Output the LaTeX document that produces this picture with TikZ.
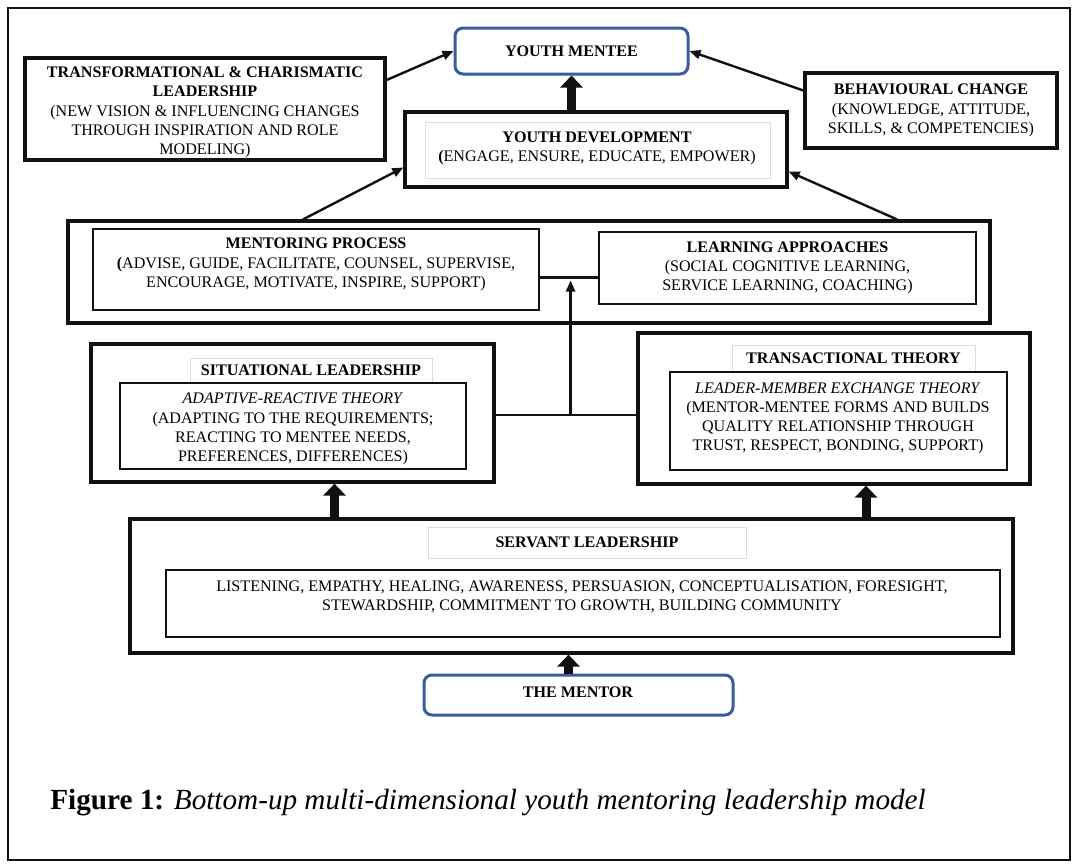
\documentclass[tikz,border=0pt]{standalone}
\usepackage{fontspec}
\setmainfont{Liberation Serif}
\usetikzlibrary{arrows.meta,positioning}
\definecolor{cBlue}{HTML}{3A5BA0}
\definecolor{cInk}{HTML}{111111}
\definecolor{cGrey}{HTML}{DDDDDD}

\begin{document}
\begin{tikzpicture}[
  x=0.5pt,y=-0.5pt,
  font=\fontsize{8.05}{9.6}\selectfont,
  tbox/.style={draw=cInk,line width=1.6pt,inner sep=0pt,align=center},
  ibox/.style={draw=cInk,line width=0.7pt,inner sep=0pt,align=center},
  gbox/.style={draw=cGrey,line width=0.4pt,inner sep=0pt,font=\fontsize{8.05}{9.6}\selectfont\bfseries},
  ment/.style={draw=cBlue,line width=1.5pt,rounded corners=4pt,inner sep=0pt,
               font=\fontsize{8.05}{9.6}\selectfont\bfseries},
  txt/.style={align=center,inner sep=0pt},
  link/.style={-{Triangle[length=5.5pt,width=4.5pt]},line width=1.2pt,cInk},
  lift/.style={-{Triangle[length=6pt,width=11pt]},line width=4.5pt,cInk},
  tie/.style={line width=1.1pt,cInk}
]
\useasboundingbox (0,0) rectangle (1077,864);
\draw[line width=1pt,cInk] (8,8) rectangle (1070,860);

% top row
\node[ment,minimum width=116.5pt,minimum height=23pt] (mentee) at (571.5,51) {YOUTH MENTEE};
\node[tbox,minimum width=180pt,minimum height=51pt] (transf) at (205,109) {};
\node[txt] (transft) at (205,112.5)
  {\textbf{TRANSFORMATIONAL \& CHARISMATIC}\\\textbf{LEADERSHIP}\\(NEW VISION \& INFLUENCING CHANGES\\THROUGH INSPIRATION AND ROLE\\MODELING)};
\node[tbox,minimum width=126pt,minimum height=37.5pt] (behav) at (931,110.5)
  {\textbf{BEHAVIOURAL CHANGE}\\(KNOWLEDGE, ATTITUDE,\\SKILLS, \& COMPETENCIES)};
\node[tbox,minimum width=191pt,minimum height=37.5pt] (ydev) at (596,149.5) {};
\node[gbox,minimum width=172.5pt,minimum height=28pt] (ydevg) at (597.5,150) {};
\node[txt] (ydevt) at (597,148.5) {\textbf{YOUTH DEVELOPMENT}\\\textbf{(}ENGAGE, ENSURE, EDUCATE, EMPOWER)};

% mentoring row
\node[tbox,minimum width=461pt,minimum height=51pt] (mrow) at (529,272) {};
\node[ibox,minimum width=223pt,minimum height=40.5pt] (mproc) at (316,269.5) {};
\node[txt] (mproct) at (316,264.5)
  {\textbf{MENTORING PROCESS}\\\textbf{(}ADVISE, GUIDE, FACILITATE, COUNSEL, SUPERVISE,\\ENCOURAGE, MOTIVATE, INSPIRE, SUPPORT)};
\node[ibox,minimum width=188.5pt,minimum height=36pt] (learn) at (787.5,268)
  {\textbf{LEARNING APPROACHES}\\(SOCIAL COGNITIVE LEARNING,\\SERVICE LEARNING, COACHING)};

% theory row
\node[tbox,minimum width=201.5pt,minimum height=69pt] (sit) at (292.5,413) {};
\node[gbox,minimum width=121pt,minimum height=12.5pt] (sitg) at (311,370.5) {SITUATIONAL LEADERSHIP};
\node[ibox,minimum width=173pt,minimum height=43pt] (sitin) at (293,426) {};
\node[txt] (sitt) at (293,429)
  {\textit{ADAPTIVE-REACTIVE THEORY}\\(ADAPTING TO THE REQUIREMENTS;\\REACTING TO MENTEE NEEDS,\\PREFERENCES, DIFFERENCES)};
\node[tbox,minimum width=196pt,minimum height=75.5pt] (trans) at (834,408.5) {};
\node[gbox,minimum width=121.5pt,minimum height=13.5pt] (transg) at (853.5,358.5) {TRANSACTIONAL THEORY};
\node[ibox,minimum width=168.5pt,minimum height=49pt] (transin) at (838.5,421) {};
\node[txt] (transt) at (838,418.5)
  {\textit{LEADER-MEMBER EXCHANGE THEORY}\\(MENTOR-MENTEE FORMS AND BUILDS\\QUALITY RELATIONSHIP THROUGH\\TRUST, RESPECT, BONDING, SUPPORT)};

% base
\node[tbox,minimum width=441.5pt,minimum height=67pt] (serv) at (571.5,586) {};
\node[gbox,minimum width=159pt,minimum height=15.5pt] (servg) at (587,542.5) {SERVANT LEADERSHIP};
\node[ibox,minimum width=417pt,minimum height=33.5pt] (servin) at (583,603.5) {};
\node[txt] (servt) at (582,597)
  {LISTENING, EMPATHY, HEALING, AWARENESS, PERSUASION, CONCEPTUALISATION, FORESIGHT,\\STEWARDSHIP, COMMITMENT TO GROWTH, BUILDING COMMUNITY};
\node[ment,minimum width=154.5pt,minimum height=20pt] (mentor) at (578.5,695) {};
\node[txt,font=\fontsize{8.05}{9.6}\selectfont\bfseries] (mentort) at (578,692.5) {THE MENTOR};

\node[anchor=west,inner sep=0pt,font=\fontsize{14.6}{17}\selectfont] (cap) at (50,803)
  {\textbf{Figure 1:} \textit{Bottom-up multi-dimensional youth mentoring leadership model}};

% thin arrows
\draw[link] ([yshift=14.5pt]transf.east) -- (mentee.west);
\draw[link] ([yshift=10pt]behav.west) -- (mentee.east);
\draw[link] ([xshift=-113pt]mrow.north) -- ([yshift=-9pt]ydev.west);
\draw[link] ([xshift=184pt]mrow.north) -- ([yshift=-11pt]ydev.east);

% block arrows
\draw[lift] (ydev.north -| mentee.south) -- (mentee.south);
\coordinate (situp) at ([xshift=21pt]sit.south);
\draw[lift] (serv.north -| situp) -- (situp);
\coordinate (transup) at ([xshift=16pt]trans.south);
\draw[lift] (serv.north -| transup) -- (transup);
\coordinate (servdn) at ([xshift=-5pt]mentor.north);
\draw[lift] (servdn) -- (serv.south -| servdn);

% joins
\coordinate (hlo) at ([yshift=-1pt]sit.east);
\draw[tie] (hlo) -- (hlo -| trans.west);
\coordinate (hhi) at ([yshift=-4pt]mproc.east);
\draw[tie] (hhi) -- (hhi -| learn.west);
\coordinate (rise) at ([xshift=37.5pt]hlo);
\coordinate (hstop) at ([yshift=-1.5pt]hhi);
\draw[link] (rise) -- (rise |- hstop);

\end{tikzpicture}
\end{document}
